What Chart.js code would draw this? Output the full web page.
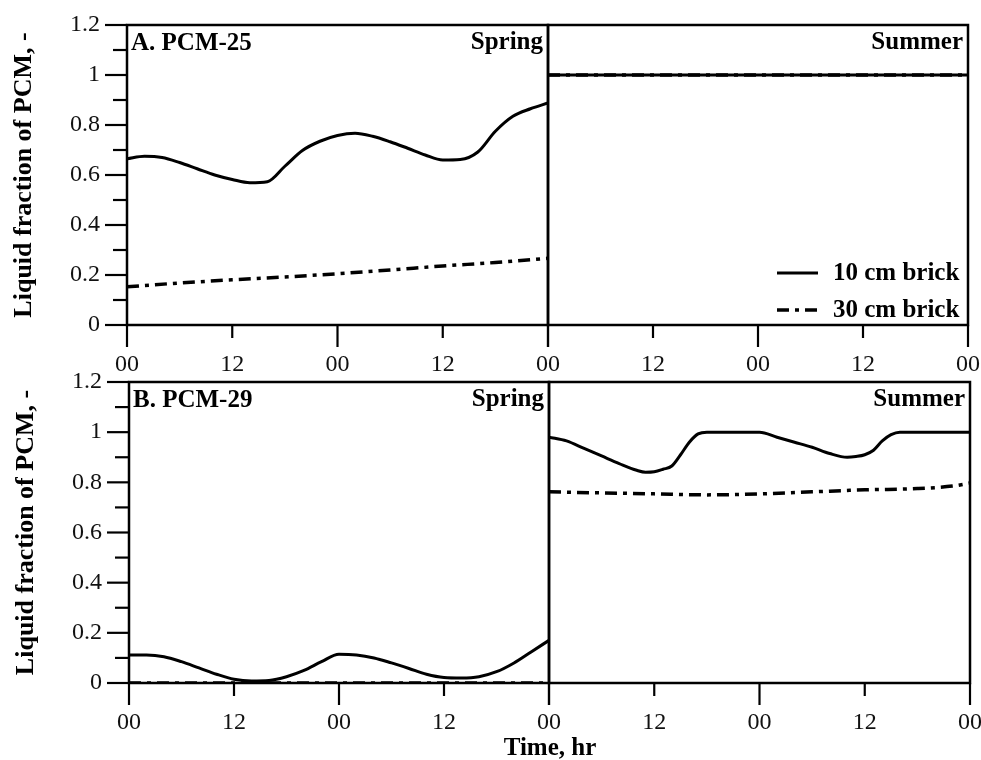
<!DOCTYPE html>
<html>
<head>
<meta charset="utf-8">
<script src="https://cdn.jsdelivr.net/npm/chart.js@4.4.0/dist/chart.umd.min.js"></script>
<style>
  html, body { margin: 0; padding: 0; background: #fff; }
  #wrap { position: relative; width: 981px; height: 760px; }
  #wrap canvas { position: absolute; left: 0; top: 0; }
</style>
</head>
<body>
<div id="wrap">
  <canvas id="tl" width="981" height="760"></canvas>
  <canvas id="tr" width="981" height="760"></canvas>
  <canvas id="bl" width="981" height="760"></canvas>
  <canvas id="br" width="981" height="760"></canvas>
</div>
<script>
// ticks
const hourTicks = [0, 12, 24, 36, 48];
const hourTickLabels = ['00', '12', '00', '12', '00'];
const yTicks = [0, 0.2, 0.4, 0.6, 0.8, 1, 1.2];
const yTickLabels = ['0', '0.2', '0.4', '0.6', '0.8', '1', '1.2'];
const yMinorTicks = [0.1, 0.3, 0.5, 0.7, 0.9, 1.1];
const seriesNames = ['10 cm brick', '30 cm brick'];

// A. PCM-25, spring
const hrsA10Spring = [0, 2, 4, 6, 8, 10, 12, 14, 16, 18, 20, 22, 24, 26, 28, 30, 32, 34, 36, 38, 40, 42, 44, 46, 48];
const a10Spring = [0.665, 0.675, 0.670, 0.650, 0.625, 0.600, 0.582, 0.569, 0.573, 0.635, 0.698, 0.735, 0.758, 0.767, 0.755, 0.733, 0.707, 0.680, 0.660, 0.662, 0.692, 0.775, 0.835, 0.865, 0.888];
const hrsA30Spring = [0, 6, 12, 18, 24, 30, 36, 42, 48];
const a30Spring = [0.153, 0.168, 0.181, 0.192, 0.205, 0.220, 0.236, 0.250, 0.267];

// A. PCM-25, summer
const hrsASummer = [0, 12, 24, 36, 48];
const a10Summer = [1, 1, 1, 1, 1];
const a30Summer = [1, 1, 1, 1, 1];

// B. PCM-29, spring
const hrsB10Spring = [0, 2, 4, 6, 8, 10, 12, 14, 16, 18, 20, 22, 24, 26, 28, 30, 32, 34, 36, 38, 40, 42, 44, 46, 48];
const b10Spring = [0.112, 0.112, 0.105, 0.085, 0.060, 0.035, 0.015, 0.008, 0.010, 0.025, 0.050, 0.085, 0.115, 0.112, 0.100, 0.080, 0.058, 0.035, 0.022, 0.020, 0.025, 0.045, 0.080, 0.125, 0.170];
const hrsB30Spring = [0, 12, 24, 36, 48];
const b30Spring = [0, 0, 0, 0, 0];

// B. PCM-29, summer
const hrsB10Summer = [0, 2, 4, 6, 8, 10, 11, 12, 13, 14, 15, 16, 17, 18, 20, 22, 24, 26, 28, 30, 32, 34, 35, 36, 37, 38, 39, 40, 44, 48];
const b10Summer = [0.980, 0.965, 0.935, 0.905, 0.875, 0.848, 0.840, 0.842, 0.852, 0.865, 0.910, 0.960, 0.993, 1.0, 1.0, 1.0, 1.0, 0.980, 0.960, 0.940, 0.915, 0.900, 0.903, 0.910, 0.928, 0.965, 0.990, 1.0, 1.0, 1.0];
const hrsB30Summer = [0, 6, 12, 18, 24, 30, 36, 42, 46, 48];
const b30Summer = [0.762, 0.758, 0.754, 0.750, 0.754, 0.762, 0.770, 0.775, 0.785, 0.797];

const serif = '"Liberation Serif", "Times New Roman", serif';
const dashDot = [12, 6, 4, 6];

function pts(hrs, vals) {
  return hrs.map((h, i) => ({ x: h, y: vals[i] }));
}

// frame, tick marks, panel texts and legend
const panel = {
  id: 'panel',
  afterDatasetsDraw(chart, args, o) {
    const { ctx, chartArea: a, scales: { x, y } } = chart;
    ctx.save();
    ctx.strokeStyle = '#000';
    ctx.lineWidth = 2.5;
    ctx.strokeRect(a.left, a.top, a.right - a.left, a.bottom - a.top);
    ctx.lineWidth = 2.2;
    hourTicks.forEach(h => {
      const px = x.getPixelForValue(h);
      const len = h % 24 === 0 ? 22 : 13;
      ctx.beginPath();
      ctx.moveTo(px, a.bottom);
      ctx.lineTo(px, a.bottom + len);
      ctx.stroke();
    });
    if (o.yAxis) {
      yTicks.concat(yMinorTicks).forEach(v => {
        const py = y.getPixelForValue(v);
        const len = yMinorTicks.includes(v) ? 14 : 22;
        ctx.beginPath();
        ctx.moveTo(a.left - len, py);
        ctx.lineTo(a.left, py);
        ctx.stroke();
      });
    }
    ctx.fillStyle = '#000';
    ctx.font = 'bold 25px ' + serif;
    ctx.textBaseline = 'alphabetic';
    if (o.tag) {
      ctx.textAlign = 'left';
      ctx.fillText(o.tag, a.left + 4, a.top + 25);
    }
    ctx.textAlign = 'right';
    ctx.fillText(o.season, a.right - 5, a.top + 24);
    if (o.xTitle) {
      ctx.textAlign = 'center';
      ctx.fillText(o.xTitle, a.right + 1, a.bottom + 72);
    }
    if (o.legend) {
      chart.data.datasets.forEach((ds, i) => {
        const ly = a.bottom - 52 + i * 37;
        ctx.setLineDash(ds.borderDash || []);
        ctx.lineWidth = ds.borderWidth;
        ctx.beginPath();
        ctx.moveTo(a.right - 191, ly);
        ctx.lineTo(a.right - 150, ly);
        ctx.stroke();
        ctx.setLineDash([]);
        ctx.textAlign = 'left';
        ctx.fillText(ds.label, a.right - 135, ly + 7);
      });
    }
    ctx.restore();
  }
};

function makeChart(id, hrs10, v10, hrs30, v30, pad, o) {
  const left = !!o.yAxis;
  return new Chart(document.getElementById(id), {
    type: 'line',
    data: {
      datasets: [
        { label: seriesNames[0], data: pts(hrs10, v10), borderColor: '#000', borderWidth: 3,
          pointRadius: 0, cubicInterpolationMode: 'monotone', fill: false },
        { label: seriesNames[1], data: pts(hrs30, v30), borderColor: '#000', borderWidth: 3.5,
          borderDash: dashDot, pointRadius: 0, cubicInterpolationMode: 'monotone', fill: false }
      ]
    },
    options: {
      responsive: false,
      animation: false,
      layout: { padding: pad },
      plugins: { legend: { display: false }, tooltip: { enabled: false }, panel: o },
      scales: {
        x: {
          type: 'linear', min: 0, max: 48,
          afterBuildTicks: s => { s.ticks = hourTicks.map(v => ({ value: v })); },
          afterFit: s => { s.height = 50; s.paddingLeft = 0; s.paddingRight = 0; },
          grid: { display: false }, border: { display: false },
          ticks: {
            padding: 17, color: '#111', maxRotation: 0, autoSkip: false,
            font: { family: serif, size: 24 },
            callback: (v, i) => (!left && i === 0) ? '' : hourTickLabels[i]
          }
        },
        y: {
          display: left,
          min: 0, max: 1.2,
          afterBuildTicks: s => { s.ticks = yTicks.map(v => ({ value: v })); },
          afterFit: s => { if (left) s.width = 118; s.paddingTop = 0; s.paddingBottom = 0; },
          grid: { display: false }, border: { display: false },
          ticks: {
            padding: 19, color: '#111',
            font: { family: serif, size: 24 },
            callback: (v, i) => yTickLabels[i]
          },
          title: {
            display: left, text: 'Liquid fraction of PCM, -', color: '#000', padding: 0,
            font: { family: serif, size: 26, weight: 'bold' }
          }
        }
      }
    },
    plugins: [panel]
  });
}

makeChart('tl', hrsA10Spring, a10Spring, hrsA30Spring, a30Spring,
  { left: 9, right: 433, top: 25, bottom: 385 }, { yAxis: true, tag: 'A. PCM-25', season: 'Spring' });
makeChart('tr', hrsASummer, a10Summer, hrsASummer, a30Summer,
  { left: 548, right: 13, top: 25, bottom: 385 }, { season: 'Summer', legend: true });
makeChart('bl', hrsB10Spring, b10Spring, hrsB30Spring, b30Spring,
  { left: 11, right: 432, top: 382, bottom: 27 }, { yAxis: true, tag: 'B. PCM-29', season: 'Spring', xTitle: 'Time, hr' });
makeChart('br', hrsB10Summer, b10Summer, hrsB30Summer, b30Summer,
  { left: 549, right: 11, top: 382, bottom: 27 }, { season: 'Summer' });
</script>
</body>
</html>
